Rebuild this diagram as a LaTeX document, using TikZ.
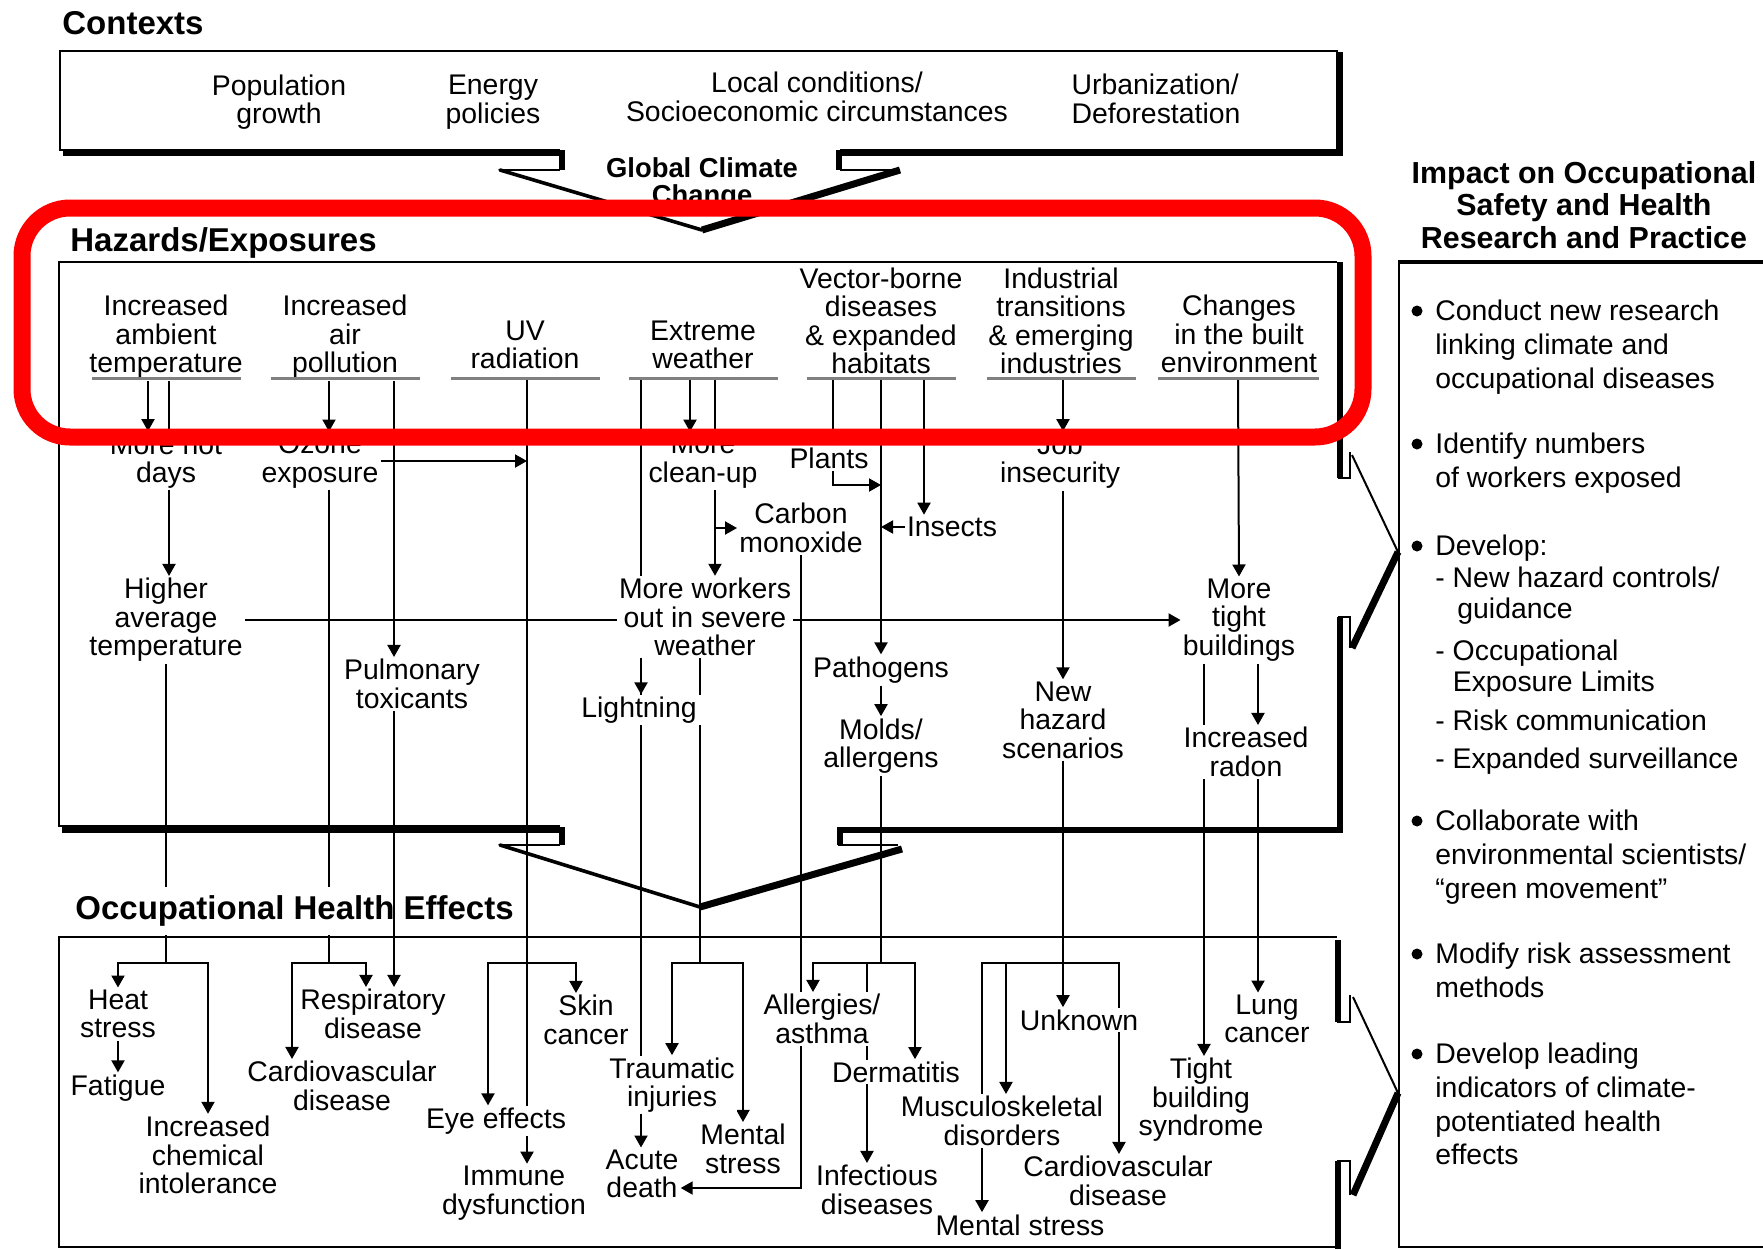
\documentclass[tikz,border=0pt]{standalone}
\usepackage{fontspec}
\setmainfont{Liberation Sans}
\usetikzlibrary{arrows.meta,backgrounds}

\tikzset{
  txt/.style={font=\fontsize{14.2}{14.2}\selectfont, align=center, inner sep=1pt, fill=white},
  head/.style={font=\fontsize{16.5}{18}\selectfont\bfseries, inner sep=1pt, anchor=west},
  phead/.style={font=\fontsize{15.2}{16.3}\selectfont\bfseries, align=center, inner sep=0pt},
  panel/.style={font=\fontsize{14.2}{16.8}\selectfont, align=left, inner sep=0pt, anchor=north west},
  subitem/.style={panel, font=\fontsize{14.2}{15.4}\selectfont},
  dot/.style={circle, fill=black, inner sep=0pt, minimum size=5.5pt},
  uline/.style={fill=black!50, inner sep=0pt, minimum height=1.5pt, minimum width=74.5pt},
  con/.style={line width=1pt},
  arr/.style={con, -{Triangle[length=6pt,width=6.5pt]}},
  boxline/.style={line width=1pt},
  dropline/.style={line width=3pt},
}

\begin{document}
\begin{tikzpicture}[x=0.5pt, y=-0.5pt]
\useasboundingbox (0,0) rectangle (1763,1249);

% x positions of the vertical links
\foreach \n/\x in {cHot/148, cHigh/169, cOzone/329, cPulm/394, cCard/292, cResp/366,
    cUV/527, cEye/488, cSkin/576, cExt/641, cClean/690, cSevere/700, cWork/715,
    cPlant/833, cPath/881, cInsect/924, cAllerg/813, cInfect/867, cDerm/915,
    cInd/1063, cMent/982, cMusc/1006, cCardB/1119, cTbs/1204, cRadon/1258}
  \coordinate (\n) at (\x,0);
\coordinate (jy) at (0,963);
\coordinate (jPlant) at (881,485);

% contexts
\node[head] (ctxh) at (60,23) {Contexts};
\node[txt] (pop) at (279,102) {Population\\growth};
\node[txt] (energy) at (493,102) {Energy\\policies};
\node[txt] (local) at (817,97) {Local conditions/\\Socioeconomic circumstances};
\node[txt, align=left] (urban) at (1156,99) {Urbanization/\\Deforestation};
\node[font=\fontsize{13.7}{13.7}\selectfont\bfseries, align=center, inner sep=0pt] (gcc) at (702,184) {Global Climate\\Change};

% hazards / exposures
\node[head] (hazh) at (68,243) {Hazards/Exposures};
\node[txt] (h1) at (166,337) {Increased\\ambient\\temperature};
\node[txt] (h2) at (345,337) {Increased\\air\\pollution};
\node[txt] (h3) at (525,345) {UV\\radiation};
\node[txt] (h4) at (703,345) {Extreme\\weather};
\node[txt] (h5) at (881,321) {Vector-borne\\diseases\\\& expanded\\habitats};
\node[txt] (h6) at (1061,321) {Industrial\\transitions\\\& emerging\\industries};
\node[txt] (h7) at (1239,334) {Changes\\in the built\\environment};
\node[uline] (u1) at (166,378) {};
\node[uline] (u2) at (345,378) {};
\node[uline] (u3) at (525,378) {};
\node[uline] (u4) at (703,378) {};
\node[uline] (u5) at (881,378) {};
\node[uline] (u6) at (1061,378) {};
\node[uline, minimum width=80.5pt] (u7) at (1238,378) {};

\node[txt] (hot) at (166,461) {More hot\\days};
\node[txt] (ozone) at (320,461) {Ozone\\exposure};
\node[txt] (cleanup) at (703,461) {More\\clean-up};
\node[txt] (plants) at (829,458) {Plants};
\node[txt] (job) at (1060,461) {Job\\insecurity};
\node[txt] (carbon) at (801,528) {Carbon\\monoxide};
\node[txt] (insects) at (952,527) {Insects};
\node[txt] (higher) at (166,620) {Higher\\average\\temperature};
\node[txt] (workers) at (705,617) {More workers\\out in severe\\weather};
\node[txt] (tight) at (1239,620) {More\\tight\\buildings};
\node[txt] (pulm) at (412,684) {Pulmonary\\toxicants};
\node[txt, inner xsep=3pt] (lightning) at (639,710) {Lightning};
\node[txt] (pathogens) at (881,670) {Pathogens};
\node[txt] (molds) at (881,746) {Molds/\\allergens};
\node[txt] (newhaz) at (1063,720) {New\\hazard\\scenarios};
\node[txt] (radon) at (1246,752) {Increased\\radon};

% occupational health effects
\node[head, fill=white, inner ysep=4.5pt] (oheh) at (73,911) {Occupational Health Effects};
\node[txt] (heat) at (118,1014) {Heat\\stress};
\node[txt] (fatigue) at (118,1088) {Fatigue};
\node[txt] (chem) at (208,1155) {Increased\\chemical\\intolerance};
\node[txt] (resp) at (373,1014) {Respiratory\\disease};
\node[txt] (cardio1) at (342,1086) {Cardiovascular\\disease};
\node[txt] (skin) at (586,1020) {Skin\\cancer};
\node[txt] (eye) at (496,1121) {Eye effects};
\node[txt] (immune) at (514,1193) {Immune\\dysfunction};
\node[txt] (traumatic) at (672,1085) {Traumatic\\injuries};
\node[txt] (acute) at (642,1174) {Acute\\death};
\node[txt] (mental1) at (743,1149) {Mental\\stress};
\node[txt] (allergies) at (822,1019) {Allergies/\\asthma};
\node[txt] (derm) at (896,1072) {Dermatitis};
\node[txt] (infect) at (877,1190) {Infectious\\diseases};
\node[txt] (musculo) at (1002,1121) {Musculoskeletal\\disorders};
\node[txt] (mental2) at (1020,1225) {Mental stress};
\node[txt] (unknown) at (1079,1020) {Unknown};
\node[txt] (cardio2) at (1118,1181) {Cardiovascular\\disease};
\node[txt] (tbs) at (1201,1100) {Tight\\building\\syndrome};
\node[txt] (lung) at (1267,1019) {Lung\\cancer};

% impact panel
\node[phead] (imph) at (1584,205) {Impact on Occupational\\Safety and Health\\Research and Practice};
\node[dot] (d1) at (1417,311) {};
\node[panel] (p1) at (1435,300) {Conduct new research\\linking climate and\\occupational diseases};
\node[dot] (d2) at (1417,444) {};
\node[panel] (p2) at (1435,433) {Identify numbers\\of workers exposed};
\node[dot] (d3) at (1417,546) {};
\node[panel] (p3) at (1435,535) {Develop:};
\node[subitem] (p3a) at (1435,567) {- New hazard controls/\\\hspace*{11pt}guidance};
\node[subitem] (p3b) at (1435,640) {- Occupational\\\hspace*{8.7pt}Exposure Limits};
\node[subitem] (p3c) at (1435,710) {- Risk communication};
\node[subitem] (p3d) at (1435,748) {- Expanded surveillance};
\node[dot] (d4) at (1417,821) {};
\node[panel] (p4) at (1435,810) {Collaborate with\\environmental scientists/\\“green movement”};
\node[dot] (d5) at (1417,954) {};
\node[panel] (p5) at (1435,943) {Modify risk assessment\\methods};
\node[dot] (d6) at (1417,1054) {};
\node[panel] (p6) at (1435,1043) {Develop leading\\indicators of climate-\\potentiated health\\effects};

\begin{pgfonlayer}{background}
% ambient temperature
\draw[arr] (cHot |- u1.south) -- (cHot |- hot.north);
\draw[arr] (cHigh |- u1.south) -- (cHigh |- higher.north);
\draw[arr] (higher.east) -- (tight.west);
\draw[con] (higher.south) -- (higher.south |- jy);
\draw[arr] (higher.south |- jy) -| (heat.north);
\draw[arr] (higher.south |- jy) -| (chem.north);
\draw[arr] (heat.south) -- (fatigue.north);
% air pollution
\draw[arr] (cOzone |- u2.south) -- (cOzone |- ozone.north);
\draw[arr] (cPulm |- u2.south) -- (cPulm |- pulm.north);
\draw[arr] (ozone.east) -- (cUV |- ozone.east);
\draw[con] (cOzone |- ozone.south) -- (cOzone |- jy);
\draw[arr] (cOzone |- jy) -| (cCard |- cardio1.north);
\draw[arr] (cOzone |- jy) -| (cResp |- resp.north);
% uv radiation
\draw[arr] (cUV |- u3.south) -- (cUV |- immune.north);
\draw[arr] (cUV |- jy) -| (cEye |- eye.north);
\draw[arr] (cUV |- jy) -| (cSkin |- skin.north);
% extreme weather
\draw[arr] (cClean |- u4.south) -- (cClean |- cleanup.north);
\draw[arr] (cWork |- u4.south) -- (cWork |- workers.north);
\draw[arr] (cWork |- carbon.west) -- (carbon.west);
\draw[arr] (cExt |- u4.south) -- (cExt |- acute.north);
\draw[arr] (cExt |- workers.south) -- (cExt |- lightning.north);
\draw[con] (cSevere |- workers.south) -- (cSevere |- jy);
\draw[arr] (cSevere |- jy) -| (traumatic.north);
\draw[arr] (cSevere |- jy) -| (mental1.north);
\draw[arr] (carbon.south) |- ([yshift=-7pt]acute.east);
% vector-borne diseases
\draw[arr] (cPlant |- u5.south) -- (cPlant |- plants.north);
\draw[arr] (cPlant |- plants.south) |- (jPlant);
\draw[arr] (cPath |- u5.south) -- (cPath |- pathogens.north);
\draw[arr] (cInsect |- u5.south) -- (cInsect |- insects.north);
\draw[arr] (insects.west) -- (cPath |- insects.west);
\draw[arr] (pathogens.south) -- (molds.north);
\draw[con] (molds.south) -- (molds.south |- jy);
\draw[arr] (molds.south |- jy) -| (cAllerg |- allergies.north);
\draw[arr] (molds.south |- jy) -| (cDerm |- derm.north);
\draw[arr] (cInfect |- jy) -- (cInfect |- infect.north);
% industrial transitions
\draw[arr] (cInd |- u6.south) -- (cInd |- job.north);
\draw[arr] (cInd |- job.south) -- (cInd |- newhaz.north);
\draw[arr] (cInd |- newhaz.south) -- (cInd |- unknown.north);
\draw[arr] (cInd |- jy) -| (cMent |- mental2.north);
\draw[arr] (cInd |- jy) -| (cMusc |- musculo.north);
\draw[arr] (cInd |- jy) -| (cCardB |- cardio2.north);
% built environment
\draw[arr] (u7.south) -- (tight.north);
\draw[arr] (cTbs |- tight.south) -- (cTbs |- tbs.north);
\draw[arr] (cRadon |- tight.south) -- (cRadon |- radon.north);
\draw[arr] (cRadon |- radon.south) -- (cRadon |- lung.north);
\end{pgfonlayer}
\draw[arr] (cPulm |- pulm.south) -- (cPulm |- resp.north);

% contexts box and arrow
\draw[boxline] (560,150) -- (60,150) -- (60,51) -- (1337,51) -- (1337,150) -- (840,150);
\draw[dropline] (63,153) -- (561.5,153) -- (561.5,170);
\draw[dropline] (1340,52) -- (1340,153) -- (838.5,153) -- (838.5,170);
\draw[boxline] (560,170) -- (500,170);
\draw[line width=1.8pt, line cap=round] (500,170) -- (702,230);
\draw[line width=3.5pt] (702,230) -- (900,170);
\draw[boxline] (840,170) -- (900,170);

% hazards box and arrows
\draw[boxline] (560,826) -- (59,826) -- (59,262) -- (1337,262);
\draw[dropline] (62,830) -- (561.5,830) -- (561.5,845);
\draw[boxline] (560,845) -- (500,845);
\draw[line width=1.8pt, line cap=round] (500,845) -- (700,907);
\draw[line width=3.5pt] (700,907) -- (902,849);
\draw[boxline] (838,845) -- (898,845);
\draw[dropline] (1340,262) -- (1340,478);
\draw[boxline] (1338,478) -- (1350,478) -- (1350,452);
\draw[boxline] (1352,455) -- (1398,552);
\draw[line width=3.5pt] (1398,552) -- (1352,648);
\draw[boxline] (1350,648) -- (1350,617) -- (1338,617);
\draw[dropline] (1340,617) -- (1340,830) -- (839.5,830) -- (839.5,845);

% health effects box and arrow
\draw[boxline] (1337,937) -- (59,937) -- (59,1247) -- (1337,1247);
\draw[dropline] (1338,940) -- (1338,1022);
\draw[boxline] (1337,1022) -- (1350,1022) -- (1350,995);
\draw[boxline] (1353,997) -- (1398,1093);
\draw[line width=3.5pt] (1398,1093) -- (1353,1195);
\draw[boxline] (1350,1195) -- (1350,1161) -- (1337,1161);
\draw[dropline] (1338,1161) -- (1338,1249);

% impact panel box
\draw[boxline] (1399,262) -- (1399,1247) -- (1763,1247);
\draw[line width=1.6pt] (1398,262) -- (1763,262);

% highlight
\draw[red, line width=8.5pt, rounded corners=24pt] (22,208) rectangle (1363,437);
\end{tikzpicture}
\end{document}
